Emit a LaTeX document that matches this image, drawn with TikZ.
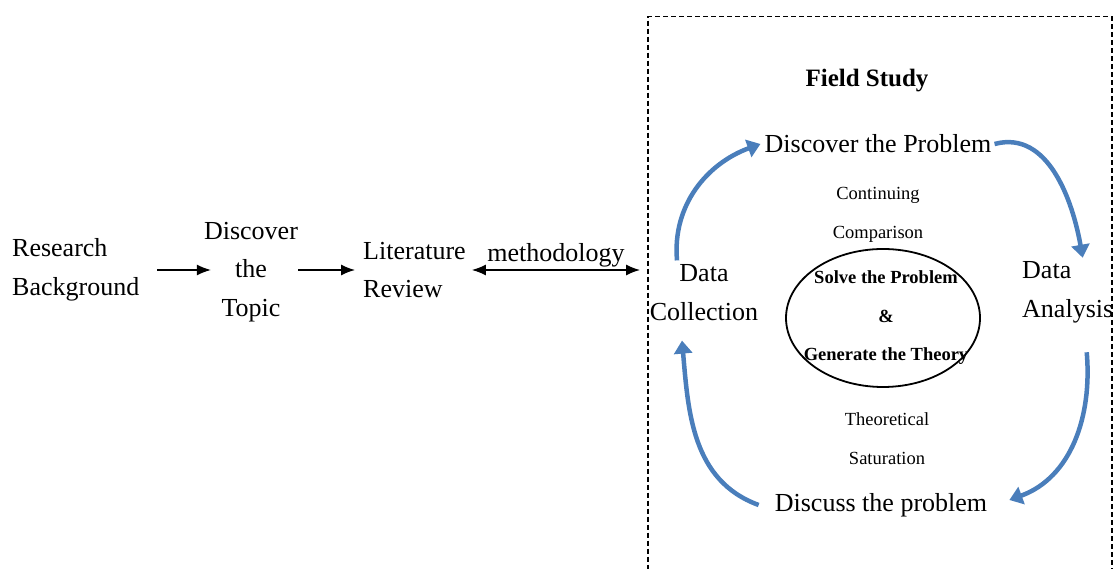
\documentclass[tikz,border=0pt]{standalone}
\usepackage{fontspec}
\setmainfont{Liberation Serif}
\usetikzlibrary{arrows.meta,shapes.geometric}
\definecolor{cycleblue}{RGB}{74,126,187}
\tikzset{
    big text/.style={font=\fontsize{26}{38.5}\selectfont,inner sep=0pt},
    small text/.style={font=\fontsize{18.5}{38.5}\selectfont,inner sep=0pt},
    flow arrow/.style={-{Latex[length=14pt,width=11pt]},line width=1.3pt},
    cycle arrow/.style={cycleblue,line width=4.5pt,-{Triangle[length=13pt,width=18pt]}},
    field box/.style={draw,dash pattern=on 5pt off 3pt,line width=1.5pt,inner sep=0pt}
}

\begin{document}
\begin{tikzpicture}[x=1pt,y=1pt]
\useasboundingbox (0,0) rectangle (1115,569);

% ========= Steps before the field study =========
\node[big text,align=left,anchor=west] (back) at (12,299) {Research\\Background};
\node[big text,align=center] (topic) at (251,297) {Discover\\the\\Topic};
\node[big text,align=left,anchor=west] (review) at (363,299) {Literature\\Review};

\draw[flow arrow,shorten <=18pt,shorten >=-7pt] (back.east) -- (back.east -| topic.west);
\draw[flow arrow,shorten >=8pt] (topic.east |- review.west) -- (review.west);

% ========= Field study =========
\node[field box,anchor=north west,minimum width=464pt,minimum height=580pt] (field) at (647,553) {};
\node[font=\bfseries\fontsize{25}{28}\selectfont] (title) at (867,488) {Field Study};

\draw[{Latex[length=14pt,width=11pt]}-{Latex[length=14pt,width=11pt]},line width=1.3pt,shorten <=6pt,shorten >=7pt] (review.east) -- (review.east -| field.west);
\node[big text] (method) at (556,314) {methodology};

% == cycle ==%
\node[big text] (prob) at (878,425) {Discover the Problem};
\node[big text,align=center] (collect) at (704,276.5) {Data\\Collection};
\node[big text,align=left,anchor=west] (analysis) at (1022,276.5) {Data\\Analysis};
\node[big text] (discuss) at (881,64) {Discuss the problem};
\node[small text,align=center] (compare) at (878,354) {Continuing\\Comparison};
\node[small text,align=center] (satur) at (887,130.5) {Theoretical\\Saturation};

% == centre ==%
\node[draw,ellipse,line width=1.8pt,minimum width=194pt,minimum height=138pt] (ring) at (883,251) {};
\node[inner sep=0pt,align=center,font=\bfseries\fontsize{18.5}{38.5}\selectfont] (solve) at ([xshift=3pt]ring.center) {Solve the Problem\\\&\\Generate the Theory};

\draw[cycle arrow] ([xshift=-27pt,yshift=4pt]collect.north) to[out=95,in=200] ([xshift=-4pt]prob.west);
\draw[cycle arrow] ([xshift=3pt]prob.east) to[out=15,in=100] ([xshift=15pt,yshift=4pt]analysis.north);
\draw[cycle arrow] ([xshift=19pt,yshift=-29pt]analysis.south) to[out=-85,in=20] ([xshift=22pt,yshift=5pt]discuss.east);
\draw[cycle arrow] ([xshift=-16pt]discuss.west) to[out=160,in=-85] ([xshift=-22pt,yshift=-20pt]collect.south);

\end{tikzpicture}
\end{document}
